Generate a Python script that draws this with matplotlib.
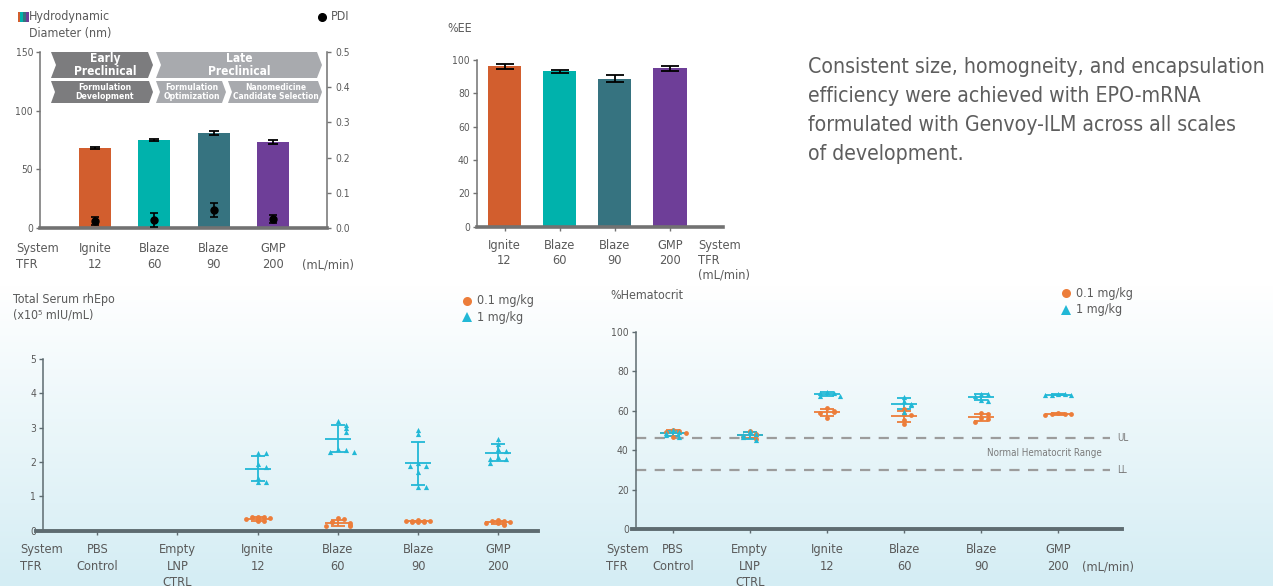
import numpy as np
import matplotlib.pyplot as plt
from matplotlib import font_manager
from matplotlib.patches import Polygon, Rectangle
from matplotlib.lines import Line2D
from matplotlib.transforms import blended_transform_factory

# ---- data -------------------------------------------------------------
stages = ["Ignite\n12", "Blaze\n60", "Blaze\n90", "GMP\n200"]
diameter_nm = [68.2, 75.0, 81.0, 73.3]
diameter_err = [1.2, 1.0, 1.8, 1.5]
pdi = [0.019, 0.024, 0.051, 0.025]
pdi_err = [0.011, 0.020, 0.019, 0.012]
ee_pct = [96.2, 93.2, 88.9, 95.0]
ee_err = [1.5, 0.9, 2.2, 1.4]

groups = ["PBS\nControl", "Empty\nLNP\nCTRL", "Ignite\n12", "Blaze\n60", "Blaze\n90", "GMP\n200"]
# total serum rhEpo (x10^5 mIU/mL), one list per group
epo_low = [[], [],
           [0.40, 0.40, 0.39, 0.36, 0.33, 0.30, 0.29, 0.28],
           [0.36, 0.35, 0.26, 0.24, 0.23, 0.16, 0.14, 0.13],
           [0.30, 0.29, 0.28, 0.27, 0.27, 0.26, 0.25, 0.24],
           [0.30, 0.29, 0.27, 0.25, 0.23, 0.21, 0.19, 0.18]]
epo_high = [[], [],
            [2.25, 2.25, 1.94, 1.86, 1.53, 1.41, 1.41],
            [3.19, 3.08, 2.98, 2.87, 2.38, 2.34, 2.30, 2.28],
            [2.93, 2.81, 1.96, 1.88, 1.88, 1.70, 1.26, 1.26],
            [2.67, 2.52, 2.39, 2.32, 2.16, 2.08, 2.08, 1.98]]
# %hematocrit
hct_low = [[50.3, 49.9, 49.1, 48.6, 46.6],
           [49.9, 48.2, 47.7, 46.8, 45.5],
           [61.5, 59.8, 59.5, 58.9, 56.2],
           [60.8, 58.4, 57.6, 55.4, 53.4],
           [58.7, 58.3, 56.2, 55.8, 54.5],
           [58.7, 58.5, 58.4, 58.2, 57.9]]
hct_high = [[50.2, 49.4, 48.9, 47.8, 46.6],
            [49.6, 48.4, 47.9, 46.5, 45.2],
            [69.6, 68.8, 68.8, 67.5, 67.5],
            [67.2, 65.0, 63.6, 63.0, 59.4],
            [68.7, 68.4, 67.5, 65.5, 65.1],
            [68.5, 68.3, 68.2, 68.0, 67.8]]
hct_upper, hct_lower = 46, 30

bar_colors = ["#d25e2e", "#00b2ac", "#367380", "#6e3e98"]
c_low = "#ec7d3a"
c_high = "#22b8d6"
txt = "#5a5a5a"
axc_top = "#727272"
axc_bot = "#5e6b70"

# ---- fonts ------------------------------------------------------------
cond = any("DejaVuSansCondensed" in f.fname for f in font_manager.fontManager.ttflist)
plt.rcParams["font.family"] = "DejaVu Sans"
if cond:
    plt.rcParams["font.stretch"] = "condensed"
fs = 1.0 if cond else 0.9

W, H = 1273, 586
fig = plt.figure(figsize=(W / 100, H / 100), dpi=100)


def rect(x0, y0, x1, y1):
    return [x0 / W, 1 - y1 / H, (x1 - x0) / W, (y1 - y0) / H]


def ftext(x, y, s, **kw):
    kw.setdefault("color", txt)
    return fig.text(x / W, 1 - y / H, s, **kw)


def fpoly(pts, color):
    fig.add_artist(Polygon([(x / W, 1 - y / H) for x, y in pts], closed=True,
                           transform=fig.transFigure, color=color, lw=0))


def fmark(x, y, **kw):
    fig.add_artist(Line2D([x / W], [1 - y / H], transform=fig.transFigure, ls="none", **kw))


# background gradient
bg = fig.add_axes([0, 0, 1, 1], zorder=-10)
t = np.clip((np.arange(H) - 285) / (H - 285), 0, 1)[:, None]
low = np.array([212, 237, 244]) / 255
grad = (1 - t) + t * low
bg.imshow(grad[:, None, :], aspect="auto", extent=[0, 1, 0, 1])
bg.axis("off")


def style(ax, col, bottom_lw):
    ax.patch.set_visible(False)
    ax.spines["top"].set_visible(False)
    ax.spines["right"].set_visible(False)
    ax.spines["bottom"].set_linewidth(bottom_lw)
    ax.spines["bottom"].set_color(col)
    ax.spines["left"].set_linewidth(1.1)
    ax.spines["left"].set_color(col)
    ax.tick_params(axis="y", direction="out", length=3, width=1, color=col,
                   labelsize=7.4 * fs, labelcolor=txt, pad=2)
    ax.tick_params(axis="x", labelsize=9.2 * fs, labelcolor=txt)


def chevron(x0, x1, y0, y1, d, color):
    ym = (y0 + y1) / 2
    fpoly([(x0, y0), (x1 - d, y0), (x1, ym), (x1 - d, y1), (x0, y1), (x0 + d, ym)], color)


# ---- panel A: size + PDI ----------------------------------------------
ax_a = fig.add_axes(rect(40, 52, 327, 228))
x4 = np.arange(1, len(stages) + 1)
ax_a.bar(x4, diameter_nm, 0.54, color=bar_colors, zorder=2)
ax_a.errorbar(x4, diameter_nm, yerr=diameter_err, fmt="none", ecolor="black",
              elinewidth=1.3, capsize=3.8, capthick=1.3, zorder=3)
ax_a.set_xlim(0.073, 4.91)
ax_a.set_ylim(0, 150)
ax_a.set_yticks([0, 50, 100, 150])
style(ax_a, axc_top, 2.6)
ax_a.set_xticks(x4, stages, linespacing=1.3)
ax_a.tick_params(axis="x", length=0, pad=10)

ax_p = ax_a.twinx()
ax_p.set_ylim(0, 0.5)
ax_p.set_yticks(np.arange(0, 0.51, 0.1))
ax_p.set_yticklabels([f"{v:.1f}" for v in np.arange(0, 0.51, 0.1)])
ax_p.errorbar(x4, pdi, yerr=pdi_err, fmt="o", ms=5, color="black",
              elinewidth=1.2, capsize=2.8, capthick=1.2, zorder=4)
for s in ["top", "left", "bottom"]:
    ax_p.spines[s].set_visible(False)
ax_p.spines["right"].set_color(axc_top)
ax_p.spines["right"].set_linewidth(1.1)
ax_p.tick_params(axis="y", direction="out", length=3, width=1, color=axc_top,
                 labelsize=7.4 * fs, labelcolor=txt, pad=3)

# stage banners
dark, light = "#7c7c7e", "#a8aaae"
chevron(51, 153, 52, 78, 5, dark)
chevron(156, 322, 52, 78, 5, light)
chevron(51, 153, 81, 103, 4, dark)
chevron(156, 226, 81, 103, 4, light)
chevron(228, 322, 81, 103, 4, light)
bk = dict(color="white", weight="bold", ha="center", va="center", linespacing=0.95)
ftext(105, 65, "Early\nPreclinical", fontsize=8.6 * fs, **bk)
ftext(239, 65, "Late\nPreclinical", fontsize=8.6 * fs, **bk)
ftext(105, 92, "Formulation\nDevelopment", fontsize=6.2 * fs, **bk)
ftext(192, 92, "Formulation\nOptimization", fontsize=6.2 * fs, **bk)
ftext(276, 92, "Nanomedicine\nCandidate Selection", fontsize=6.0 * fs, **bk)

# legend-like titles
for i, c in enumerate(bar_colors):
    fig.add_artist(Rectangle(((17.5 + 2.9 * i) / W, 1 - 22 / H), 2.9 / W, 10 / H,
                             transform=fig.transFigure, color=c, lw=0))
ftext(29, 10, "Hydrodynamic\nDiameter (nm)", fontsize=8.9 * fs, va="top", linespacing=1.35)
fmark(322, 17, marker="o", ms=5.5, color="black")
ftext(331, 17, "PDI", fontsize=8.9 * fs, va="center")
ftext(16, 242, "System\nTFR", fontsize=9.2 * fs, va="top", linespacing=1.3)
ftext(302, 258, "(mL/min)", fontsize=9.2 * fs, va="top")

# ---- panel B: encapsulation efficiency --------------------------------
ax_b = fig.add_axes(rect(476.7, 60, 723, 226.7))
ax_b.bar(x4, ee_pct, 0.6, color=bar_colors, zorder=2)
ax_b.errorbar(x4, ee_pct, yerr=ee_err, fmt="none", ecolor="black",
              elinewidth=1.3, capsize=6.3, capthick=1.3, zorder=3)
ax_b.set_xlim(0.496, 4.96)
ax_b.set_ylim(0, 100)
ax_b.set_yticks(range(0, 101, 20))
style(ax_b, axc_top, 2.6)
ax_b.set_xticks(x4, stages, linespacing=1.15)
ax_b.tick_params(axis="x", direction="out", length=3, width=1, color=axc_top, pad=6)
ftext(447, 29, "%EE", fontsize=8.9 * fs, va="center")
ftext(698, 239, "System\nTFR\n(mL/min)", fontsize=9.2 * fs, va="top", linespacing=1.15)

ftext(808, 57, "Consistent size, homogneity, and encapsulation\nefficiency were achieved with EPO-mRNA\n"
      "formulated with Genvoy-ILM across all scales\nof development.",
      fontsize=15.2 * fs, va="top", linespacing=1.56, color="#5e5e5e")


# ---- scatter helpers ---------------------------------------------------
def offsets(vals, step, ythr):
    pattern = [0, 1, -1, 2, -2]
    out, seen = [], []
    for v in vals:
        n = sum(abs(v - p) < ythr for p in seen)
        out.append(pattern[n % len(pattern)] * step)
        seen.append(v)
    return np.array(out)


def dot_series(ax, data, marker, color, size, step, ythr, half):
    for i, vals in enumerate(data):
        if not vals:
            continue
        x = i + 1
        ax.scatter(x + offsets(vals, step, ythr), vals, marker=marker, s=size,
                   color=color, lw=0, zorder=3, clip_on=False)
        m, sd = np.mean(vals), np.std(vals, ddof=1)
        ax.hlines(m, x - half, x + half, color=color, lw=1.3, zorder=2)
        ax.errorbar(x, m, yerr=sd, fmt="none", ecolor=color, elinewidth=1.3,
                    capsize=5, capthick=1.3, zorder=2)


x6 = np.arange(1, len(groups) + 1)

# ---- panel C: serum rhEpo ---------------------------------------------
ax_c = fig.add_axes(rect(36.4, 359, 537.5, 530.7))
dot_series(ax_c, epo_low, "o", c_low, 12, 0.075, 0.12, 0.16)
dot_series(ax_c, epo_high, "^", c_high, 14, 0.1, 0.12, 0.16)
ax_c.set_xlim(0.241, 6.489)
ax_c.set_ylim(0, 5)
ax_c.set_yticks(range(0, 6))
style(ax_c, axc_bot, 2.8)
ax_c.spines["left"].set_position(("axes", 0.013))
ax_c.set_xticks(x6, groups, linespacing=1.35)
ax_c.tick_params(axis="x", direction="out", length=3, width=1, color=axc_bot, pad=6)
ftext(13, 293, "Total Serum rhEpo\n(x10\u2075 mIU/mL)", fontsize=8.9 * fs, va="top", linespacing=1.3)
ftext(20, 543, "System\nTFR", fontsize=9.2 * fs, va="top", linespacing=1.35)
fmark(467, 300.5, marker="o", ms=6.5, color=c_low, mew=0)
fmark(467, 317, marker="^", ms=6.5, color=c_high, mew=0)
ftext(477, 300.5, "0.1 mg/kg", fontsize=9 * fs, va="center")
ftext(477, 317, "1 mg/kg", fontsize=9 * fs, va="center")

# ---- panel D: hematocrit ------------------------------------------------
ax_d = fig.add_axes(rect(632, 331.7, 1122, 529.3))
dot_series(ax_d, hct_low, "o", c_low, 12, 0.085, 2.0, 0.17)
dot_series(ax_d, hct_high, "^", c_high, 14, 0.085, 2.0, 0.17)
ax_d.axhline(hct_upper, 0.009, 0.975, color="#9c9c9c", lw=1.6, dashes=(4.6, 3.8), zorder=1)
ax_d.axhline(hct_lower, 0.009, 0.975, color="#9c9c9c", lw=1.6, dashes=(4.6, 3.8), zorder=1)
ax_d.set_xlim(0.472, 6.826)
ax_d.set_ylim(0, 100)
ax_d.set_yticks(range(0, 101, 20))
style(ax_d, axc_bot, 2.8)
ax_d.spines["left"].set_position(("axes", 0.0076))
ax_d.set_xticks(x6, groups, linespacing=1.35)
ax_d.tick_params(axis="x", direction="out", length=3, width=1, color=axc_bot, pad=7)
tr = blended_transform_factory(ax_d.transAxes, ax_d.transData)
ax_d.text(0.99, hct_upper, "UL", transform=tr, fontsize=7 * fs, color="#7a7a7a", va="center")
ax_d.text(0.99, hct_lower, "LL", transform=tr, fontsize=7 * fs, color="#7a7a7a", va="center")
ax_d.text(0.841, (hct_upper + hct_lower) / 2 + 0.5, "Normal Hematocrit Range", transform=tr,
          fontsize=7 * fs, color="#7a7a7a", ha="center", va="center")
ftext(610, 295, "%Hematocrit", fontsize=8.9 * fs, va="center")
ftext(606, 543, "System\nTFR", fontsize=9.2 * fs, va="top", linespacing=1.35)
ftext(1082, 560, "(mL/min)", fontsize=9.2 * fs, va="top")
fmark(1066, 293, marker="o", ms=6.5, color=c_low, mew=0)
fmark(1066, 310, marker="^", ms=6.5, color=c_high, mew=0)
ftext(1076, 293, "0.1 mg/kg", fontsize=9 * fs, va="center")
ftext(1076, 310, "1 mg/kg", fontsize=9 * fs, va="center")

fig.savefig("out.png", dpi=100)
